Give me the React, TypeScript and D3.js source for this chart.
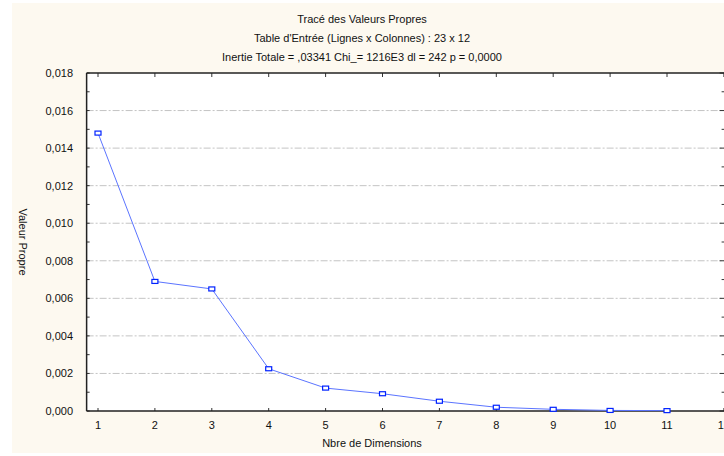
import React from "react";
import * as d3 from "d3";

// valeurs propres
const dimensions = [1, 2, 3, 4, 5, 6, 7, 8, 9, 10, 11];
const eigenvalues = [0.0148, 0.0069, 0.0065, 0.00225, 0.00122, 0.00092, 0.00052, 0.0002, 0.00009, 0.00003, 0.00002];
const yTickValues = [0, 0.002, 0.004, 0.006, 0.008, 0.01, 0.012, 0.014, 0.016, 0.018];
const xTickValues = [1, 2, 3, 4, 5, 6, 7, 8, 9, 10, 11, 12];
const titleLines = [
  "Tracé des Valeurs Propres",
  "Table d'Entrée (Lignes x Colonnes) : 23 x 12",
  "Inertie Totale = ,03341 Chi_= 1216E3 dl = 242 p = 0,0000",
];

const W = 724;
const H = 456;
const font = "'Liberation Sans', Arial, sans-serif";

const App = () => {
  const x = d3.scaleLinear().domain([1, 11]).range([98, 667]);
  const y = d3.scaleLinear().domain([0, 0.018]).range([411, 73]);
  const left = x(0.8);
  const right = x(12.03);
  const top = y(0.018);
  const bottom = y(0);

  const minor = d3.range(0, 0.0181, 0.001);
  const line = d3
    .line<number>()
    .x((d, i) => x(dimensions[i]))
    .y((d) => y(d));

  return (
    <svg
      width={W}
      height={H}
      style={{ position: "absolute", left: 0, top: 0, display: "block" }}
      fontFamily={font}
    >
      <rect x={0} y={0} width={W} height={H} fill="#ffffff" />
      <rect x={12} y={3} width={W - 12} height={450} fill="#fdf9f0" />
      <rect x={left} y={top} width={right - left} height={bottom - top} fill="#ffffff" />

      {/* titres */}
      {titleLines.map((t, i) => (
        <text key={i} x={362} y={23 + i * 19} fontSize={11} textAnchor="middle" fill="#111">
          {t}
        </text>
      ))}

      {/* grille */}
      {yTickValues.slice(1, -1).map((v) => (
        <line
          key={v}
          x1={left}
          x2={right}
          y1={y(v)}
          y2={y(v)}
          stroke="#c4c4c4"
          strokeDasharray="7,2,2,2"
        />
      ))}

      {/* ticks mineurs gauche et droite */}
      {minor.map((v, i) => (
        <g key={i}>
          <line x1={left} x2={left + 3} y1={y(v)} y2={y(v)} stroke="#333" />
          <line x1={right - (i % 2 === 0 ? 6 : 4)} x2={right} y1={y(v)} y2={y(v)} stroke="#333" />
        </g>
      ))}

      {/* ticks x */}
      {xTickValues.map((v) => (
        <g key={v}>
          <line x1={x(v)} x2={x(v)} y1={bottom} y2={bottom - 3} stroke="#333" />
          <line x1={x(v)} x2={x(v)} y1={top} y2={top + 4} stroke="#333" />
          <text x={x(v)} y={bottom + 18} fontSize={11} textAnchor="middle" fill="#111">
            {v}
          </text>
        </g>
      ))}

      {/* labels y */}
      {yTickValues.map((v) => (
        <text key={v} x={73} y={y(v) + 4} fontSize={11} textAnchor="end" fill="#111">
          {d3.format(".3f")(v).replace(".", ",")}
        </text>
      ))}

      {/* cadre */}
      <line x1={left} x2={right} y1={top} y2={top} stroke="#222" strokeWidth={1.5} />
      <line x1={left} x2={right} y1={bottom} y2={bottom} stroke="#222" strokeWidth={1.5} />
      <line x1={left} x2={left} y1={top} y2={bottom} stroke="#222" strokeWidth={1.5} />

      {/* série */}
      <path d={line(eigenvalues) || ""} fill="none" stroke="#5b74ff" strokeWidth={1} />
      {eigenvalues.map((v, i) => (
        <rect
          key={i}
          x={x(dimensions[i]) - 3}
          y={y(v) - 2}
          width={6}
          height={4}
          fill="#ffffff"
          stroke="#0022ff"
          strokeWidth={1.2}
        />
      ))}

      {/* titres des axes */}
      <text x={372} y={447} fontSize={11} textAnchor="middle" fill="#111">
        Nbre de Dimensions
      </text>
      <text
        transform={`translate(19, ${(top + bottom) / 2}) rotate(90)`}
        fontSize={11}
        textAnchor="middle"
        fill="#111"
      >
        Valeur Propre
      </text>
    </svg>
  );
};

export default App;
